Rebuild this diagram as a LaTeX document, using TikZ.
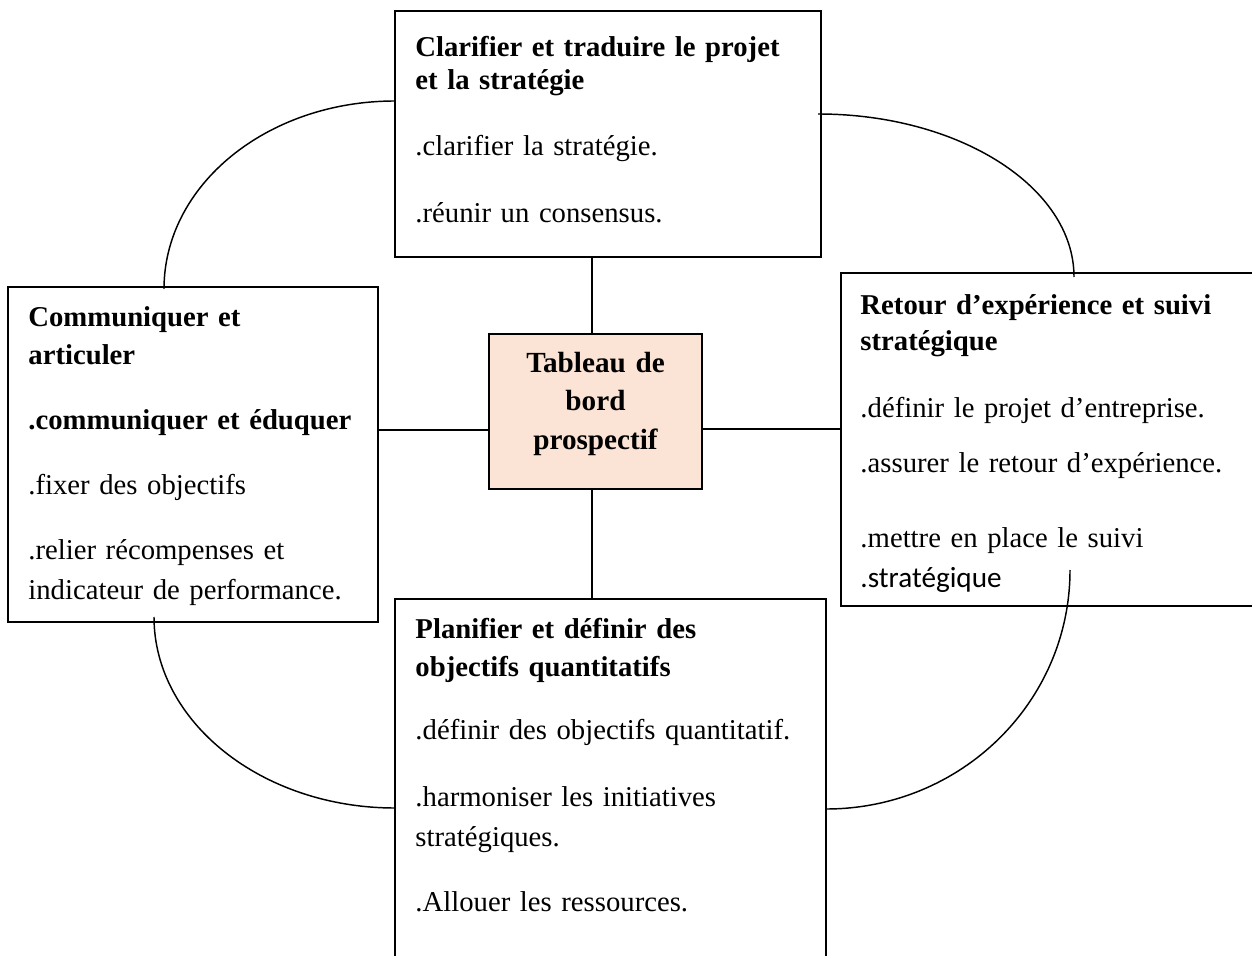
\documentclass[tikz,border=0pt]{standalone}
\usepackage{fontspec}
\setmainfont{Liberation Serif}
\newfontfamily\calib{Carlito}
\usepackage{tikz}
\usetikzlibrary{positioning}
\definecolor{peach}{HTML}{FBE4D5}

\begin{document}
\begin{tikzpicture} [x=0.411pt, y=0.411pt,
        box/.style = {draw, line width=0.8pt, rectangle, inner sep=0pt},
        txt/.style = {anchor=base west, inner sep=0pt, text width=180pt, align=left,
                      font=\fontsize{11.8}{15.6}\selectfont},
        link/.style = {line width=0.6pt}]
        \useasboundingbox (0,0) rectangle (1252,-956);

        \node (strat) [box, minimum width=175.1pt, minimum height=101.1pt] at (608,-134) {};
        \node (comm) [box, minimum width=152.1pt, minimum height=137.7pt] at (193,-454.5) {};
        \node (tdb) [box, fill=peach, minimum width=87.5pt, minimum height=63.7pt] at (595.5,-411.5) {};
        \node (retour) [box, minimum width=172.2pt, minimum height=136.9pt] at (1050.5,-439.5) {};
        \node (plan) [box, minimum width=177.1pt, minimum height=152.5pt] at (610.5,-784.5) {};

        \node (strat text) [txt, font=\fontsize{11.8}{13.6}\selectfont]
          at ([xshift=8.6pt, yshift=-18.9pt]strat.north west)
          {\textbf{Clarifier et traduire le projet}\\
           \textbf{et la stratégie}\\[13.5pt]
           .clarifier la stratégie.\\[14.3pt]
           .réunir un consensus.};
        \node (comm text) [txt]
          at ([xshift=8.6pt, yshift=-16.8pt]comm.north west)
          {\textbf{Communiquer et}\\
           \textbf{articuler}\\[11.1pt]
           \textbf{.communiquer et éduquer}\\[11.1pt]
           .fixer des objectifs\\[11.1pt]
           .relier récompenses et\\[0.8pt]
           indicateur de performance.};
        \node (tdb text) [txt, anchor=base, align=center, text width=85pt,
                          font=\fontsize{12}{15.8}\selectfont\bfseries]
          at ([yshift=-16.2pt]tdb.north)
          {Tableau de\\ bord\\ prospectif};
        \node (retour text) [txt, font=\fontsize{11.8}{14.8}\selectfont]
          at ([xshift=8.2pt, yshift=-17.4pt]retour.north west)
          {\textbf{Retour d’expérience et suivi}\\
           \textbf{stratégique}\\[12.7pt]
           .définir le projet d’entreprise.\\[7.8pt]
           .assurer le retour d’expérience.\\[16pt]
           .mettre en place le suivi\\[1.6pt]
           {\calib\fontsize{12}{14.8}\selectfont .stratégique}};
        \node (plan text) [txt]
          at ([xshift=8.6pt, yshift=-16.8pt]plan.north west)
          {\textbf{Planifier et définir des}\\
           \textbf{objectifs quantitatifs}\\[10.3pt]
           .définir des objectifs quantitatif.\\[11.9pt]
           .harmoniser les initiatives\\[0.8pt]
           stratégiques.\\[11.1pt]
           .Allouer les ressources.};

        \coordinate (hl) at ([yshift=-7.6pt]tdb.west);
        \coordinate (hr) at ([yshift=-7.2pt]tdb.east);
        \coordinate (vt) at ([xshift=-1.4pt]tdb.north);
        \coordinate (vb) at ([xshift=-1.4pt]tdb.south);

        \draw [link] (vt |- strat.south) -- (vt);
        \draw [link] (vb) -- (vb |- plan.north);
        \draw [link] (hl -| comm.east) -- (hl);
        \draw [link] (hr) -- (hr -| retour.west);

        \coordinate (tl1) at (164,-289);
        \coordinate (tl2) at (395,-101);
        \coordinate (tr1) at (818,-114);
        \coordinate (tr2) at (1074,-277);
        \coordinate (bl1) at (154,-617);
        \coordinate (bl2) at (395,-808);
        \coordinate (br1) at (1070,-570);
        \coordinate (br2) at (826,-809);

        \draw [link] (tl1) .. controls +(0,104) and +(-128,0) .. (tl2);
        \draw [link] (tr1) .. controls +(141,0) and +(0,90) .. (tr2);
        \draw [link] (bl1) .. controls +(0,-105) and +(-133,0) .. (bl2);
        \draw [link] (br1) .. controls +(0,-132) and +(135,0) .. (br2);
\end{tikzpicture}
\end{document}
